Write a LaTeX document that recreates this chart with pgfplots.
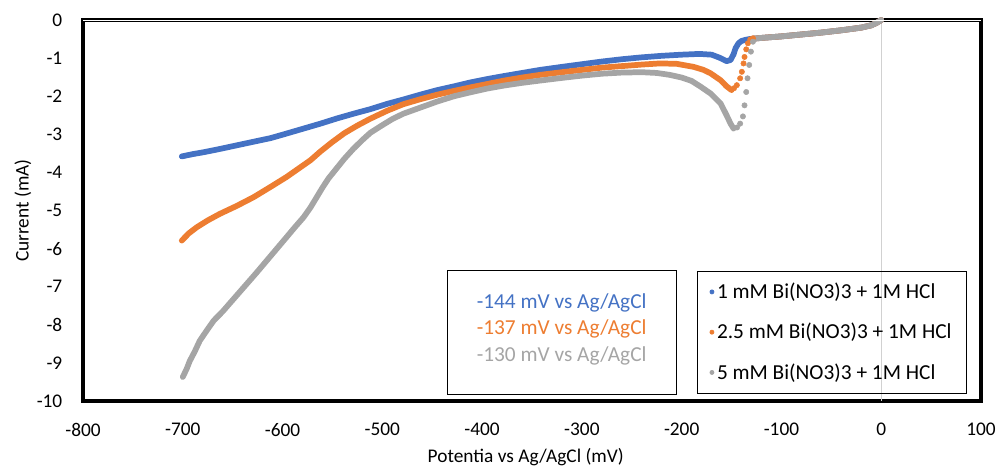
\documentclass[border=0pt]{standalone}
\usepackage{fontspec}
\setmainfont{Carlito}
\usepackage{pgfplots}
\pgfplotsset{compat=1.18}
\usepackage{pgfplotstable}
\definecolor{cblue}{HTML}{4472C4}
\definecolor{corange}{HTML}{ED7D31}
\definecolor{cgray}{HTML}{A5A5A5}

\pgfplotstableread{
x y
-701 -3.58
-690 -3.52
-679 -3.47
-662 -3.38
-646 -3.29
-630 -3.20
-612 -3.10
-596 -2.98
-579 -2.85
-562 -2.72
-545 -2.58
-529 -2.46
-512 -2.34
-495 -2.20
-478 -2.08
-462 -1.96
-445 -1.84
-428 -1.74
-412 -1.64
-395 -1.55
-378 -1.47
-360 -1.39
-342 -1.31
-320 -1.23
-300 -1.16
-280 -1.09
-260 -1.03
-240 -0.98
-220 -0.94
-200 -0.91
-182 -0.89
-170 -0.91
-162 -0.99
-155 -1.08
-151 -1.05
-148 -0.90
-146 -0.74
-143 -0.61
-140 -0.55
-136 -0.52
-132 -0.50
-128 -0.49
}\blueA

\pgfplotstableread{
x y
-701 -5.79
-694 -5.60
-686 -5.44
-675 -5.26
-663 -5.09
-646 -4.88
-629 -4.65
-612 -4.38
-596 -4.12
-584 -3.90
-572 -3.68
-562 -3.45
-550 -3.20
-538 -2.97
-525 -2.77
-512 -2.59
-495 -2.38
-479 -2.21
-462 -2.08
-445 -1.96
-428 -1.86
-412 -1.77
-395 -1.68
-378 -1.59
-360 -1.51
-342 -1.44
-320 -1.37
-300 -1.31
-280 -1.25
-260 -1.21
-240 -1.17
-222 -1.14
-205 -1.15
-188 -1.23
-178 -1.31
-171 -1.40
-161 -1.58
-155 -1.74
-150 -1.84
}\orangeA

\pgfplotstableread{
x y
-147.5 -1.79
-144.7 -1.71
-141.4 -1.53
-139.7 -1.36
-138.0 -1.14
-137.0 -0.97
-135.3 -0.77
-133.6 -0.61
-131.3 -0.51
-128.6 -0.48
}\orangeB

\pgfplotstableread{
x y
-700 -9.37
-696 -9.15
-693 -8.95
-688 -8.70
-683 -8.42
-676 -8.15
-669 -7.89
-660 -7.65
-652 -7.41
-644 -7.17
-636 -6.93
-626 -6.63
-616 -6.32
-606 -6.01
-596 -5.70
-588 -5.45
-579 -5.18
-572 -4.92
-566 -4.66
-560 -4.40
-554 -4.16
-546 -3.90
-538 -3.64
-529 -3.38
-520 -3.15
-512 -2.96
-500 -2.76
-490 -2.60
-479 -2.46
-462 -2.30
-445 -2.14
-428 -2.00
-412 -1.90
-395 -1.80
-378 -1.72
-360 -1.65
-342 -1.59
-320 -1.52
-300 -1.46
-280 -1.41
-260 -1.38
-240 -1.37
-225 -1.39
-212 -1.44
-200 -1.51
-190 -1.60
-181 -1.75
-171 -1.93
-161 -2.19
-155 -2.50
-151 -2.72
-148 -2.85
}\grayA

\pgfplotstableread{
x y
-144.5 -2.82
-141.4 -2.72
-138.6 -2.53
-137.0 -2.24
-135.3 -1.89
-134.0 -1.53
-132.3 -1.18
-130.6 -0.83
-128.6 -0.57
}\grayB

\pgfplotstableread{
x y
-128 -0.49
-120 -0.47
-100 -0.43
-80 -0.38
-60 -0.33
-40 -0.27
-20 -0.20
-10 -0.14
-5 -0.08
0 0.00
}\tail

\begin{document}
\begin{tikzpicture}
\begin{axis}[
  name=main,
  scale only axis,
  width=673.5pt, height=285.75pt,
  xmin=-800, xmax=100, ymin=-10, ymax=0,
  xtick distance=100, ytick distance=1,
  major tick length=0pt,
  axis line style={line width=3.2pt, black},
  clip=false,
  /pgf/number format/assume math mode=true,
  tick label style={font=\fontsize{14.5}{17}\selectfont, black},
  xticklabel style={yshift=-13pt},
  yticklabel style={xshift=-12pt},
  xlabel={Potentia vs Ag/AgCl (mV)},
  ylabel={Current (mA)},
  every axis x label/.style={at={(axis description cs:0.493,-0.147)}, anchor=center, font=\fontsize{14.5}{17}\selectfont},
  every axis y label/.style={at={(axis description cs:-0.0668,0.5)}, rotate=90, anchor=center, font=\fontsize{14.5}{17}\selectfont},
  legend style={at={(axis cs:-184.5,-6.58)}, anchor=north west, draw=black, line width=0.6pt,
    fill=none, font=\fontsize{16}{19}\selectfont, row sep=13pt, inner xsep=9pt, inner ysep=7pt,
    nodes={inner xsep=2pt}, cells={anchor=west},
    /tikz/every even column/.append style={column sep=3.5pt}},
  legend cell align=left,
  legend image code/.code={\fill[#1] (0cm,0cm) circle (1.5pt);},
]
\draw[black!18, line width=0.8pt] (axis cs:0,0) -- (axis cs:0,-10);

\addplot[forget plot, cblue, line width=4.3pt, line cap=round, line join=round] table {\blueA};
\addplot[forget plot, cblue, line width=4.3pt, line cap=round, line join=round] table {\tail};

\addplot[forget plot, corange, line width=4.3pt, line cap=round, line join=round] table {\orangeA};
\addplot[forget plot, corange, only marks, mark=*, mark size=2pt, mark options={draw=corange, fill=corange}] table {\orangeB};
\addplot[forget plot, corange, line width=4.3pt, line cap=round, line join=round] table {\tail};

\addplot[forget plot, cgray, line width=4.3pt, line cap=round, line join=round] table {\grayA};
\addplot[forget plot, cgray, only marks, mark=*, mark size=2pt, mark options={draw=cgray, fill=cgray}] table {\grayB};
\addplot[forget plot, cgray, line width=4.3pt, line cap=round, line join=round] table {\tail};

\addlegendimage{color=cblue}
\addlegendentry{1 mM Bi(NO3)3 + 1M HCl}
\addlegendimage{color=corange}
\addlegendentry{2.5 mM Bi(NO3)3 + 1M HCl}
\addlegendimage{color=cgray}
\addlegendentry{5 mM Bi(NO3)3 + 1M HCl}

\draw[black, line width=0.6pt] (axis cs:-435,-6.58) rectangle (axis cs:-205.5,-9.82);
\node[align=center, font=\fontsize{16}{20}\selectfont] at (axis cs:-320.3,-8.12)
  {\textcolor{cblue}{-144 mV vs Ag/AgCl}\\\textcolor{corange}{-137 mV vs Ag/AgCl}\\\textcolor{cgray}{-130 mV vs Ag/AgCl}};
\draw[white, line width=0.5pt] (rel axis cs:0,1) -- (rel axis cs:1,1);
\end{axis}
\pgfresetboundingbox
\path ([shift={(-62.25pt,-50.25pt)}]main.south west) rectangle ([shift={(13.5pt,15pt)}]main.north east);
\end{tikzpicture}
\end{document}
